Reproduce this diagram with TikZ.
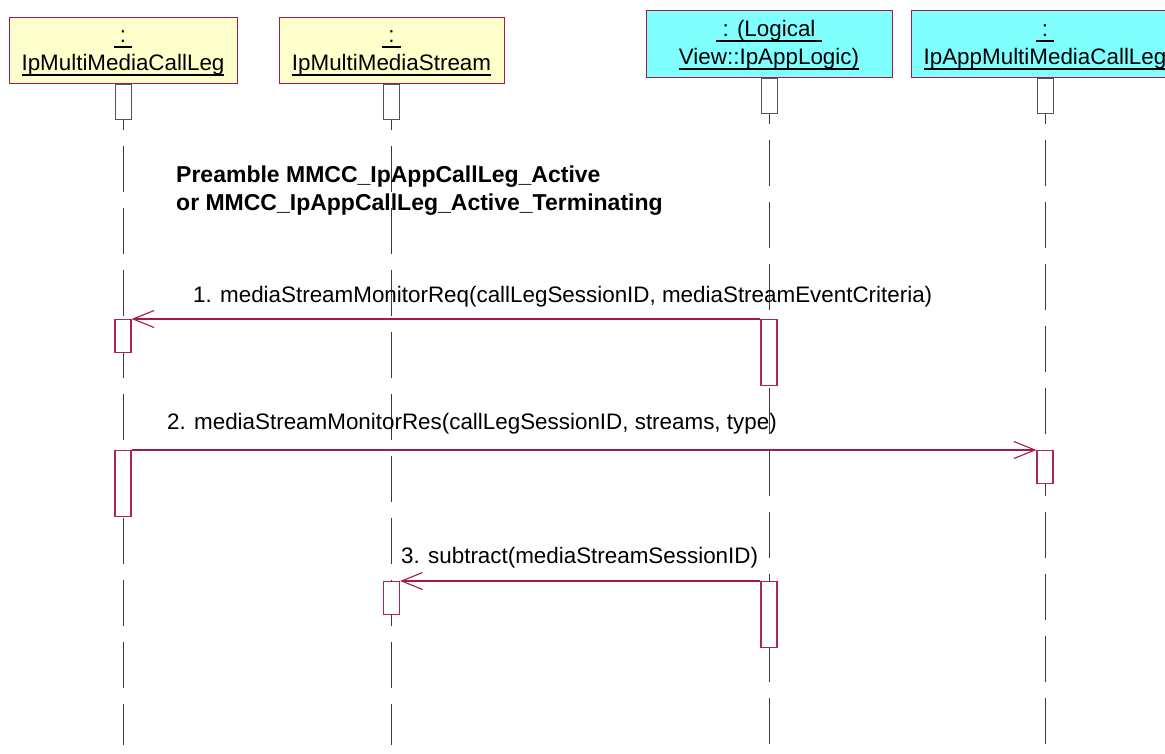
\documentclass[tikz,border=0pt]{standalone}
\usepackage{fontspec}
\setmainfont{Liberation Sans}
\usetikzlibrary{arrows.meta,positioning}
\definecolor{umlred}{HTML}{A8174A}
\definecolor{actred}{HTML}{B02455}
\definecolor{objyellow}{HTML}{FFFFCC}
\definecolor{objcyan}{HTML}{80FFFF}
\definecolor{lifegray}{HTML}{3A3A3A}
\definecolor{headgray}{HTML}{555555}
\newcommand{\objul}[1]{\setbox0\hbox{#1}\rlap{\rule[-5.5pt]{\wd0}{1.8pt}}\box0}

\tikzset{
  obj/.style={draw=umlred,line width=1pt,minimum height=66pt,inner sep=0pt,align=center,font=\fontsize{22.4}{28}\selectfont},
  headbox/.style={draw=headgray,fill=white,line width=1pt,minimum width=16pt,minimum height=35pt,inner sep=0pt,anchor=north},
  actbox/.style={draw=actred,fill=white,line width=1.2pt,minimum width=16pt,inner sep=0pt,anchor=north},
  life/.style={lifegray,line width=1pt,dash pattern=on 46pt off 16pt},
  msg/.style={umlred,line width=1.1pt,-{Straight Barb[length=21pt,width=17pt,line width=1.1pt]}},
  lbl/.style={anchor=base west,inner sep=0pt,font=\fontsize{22.4}{28}\selectfont},
  pre/.style={anchor=base west,inner sep=0pt,font=\fontsize{23}{28}\selectfont\bfseries}
}

\begin{document}
\begin{tikzpicture}[x=1pt,y=-1pt]
\useasboundingbox (0,0) rectangle (1165,753);
\clip (0,0) rectangle (1165,753);
% objects
\node[obj,fill=objyellow,minimum width=228pt] (o1) at (123,50) {\rule{0pt}{19pt}\objul{\ :\ }\\\objul{IpMultiMediaCallLeg}};
\node[obj,fill=objyellow,minimum width=225pt] (o2) at (391.5,50) {\rule{0pt}{19pt}\objul{\ :\ }\\\objul{IpMultiMediaStream}};
\node[obj,fill=objcyan,minimum width=246pt,minimum height=67pt] (o3) at (769,43.5) {\rule{0pt}{19pt}\objul{\ : (Logical\ }\\\objul{View::IpAppLogic)}};
\node[obj,fill=objcyan,minimum width=268pt,minimum height=67pt] (o4) at (1045,43.5) {\rule{0pt}{19pt}\objul{\ :\ }\\\objul{IpAppMultiMediaCallLeg}};
\coordinate (bot) at (0,745);
\foreach \o in {o1,o2,o3,o4}{
  \draw[life] (\o.south) -- (\o.south |- bot);
  \node[headbox] (\o-h) at (\o.south) {};
}
\node[pre] (pre1) at (176,182) {Preamble MMCC\_IpAppCallLeg\_Active};
\node[pre] (pre2) at (176,210) {or MMCC\_IpAppCallLeg\_Active\_Terminating};
% activations
\node[actbox,minimum height=33pt] (a1) at (o1.south |- 0,319) {};
\node[actbox,minimum height=66pt] (a2) at (o3.south |- 0,319) {};
\node[actbox,minimum height=66pt] (a3) at (o1.south |- 0,450) {};
\node[actbox,minimum height=33pt] (a4) at (o4.south |- 0,450) {};
\node[actbox,minimum height=33pt] (a5) at (o2.south |- 0,581) {};
\node[actbox,minimum height=66pt] (a6) at (o3.south |- 0,581) {};
% messages
\draw[msg] (a2.north west) -- (a1.north east);
\node[lbl] (m1) at (193,302) {1. mediaStreamMonitorReq(callLegSessionID, mediaStreamEventCriteria)};
\draw[msg] (a3.north east) -- (a4.north west);
\node[lbl] (m2) at (167,429) {2. mediaStreamMonitorRes(callLegSessionID, streams, type)};
\draw[msg] (a6.north west) -- (a5.north east);
\node[lbl] (m3) at (401,563) {3. subtract(mediaStreamSessionID)};
\end{tikzpicture}
\end{document}
